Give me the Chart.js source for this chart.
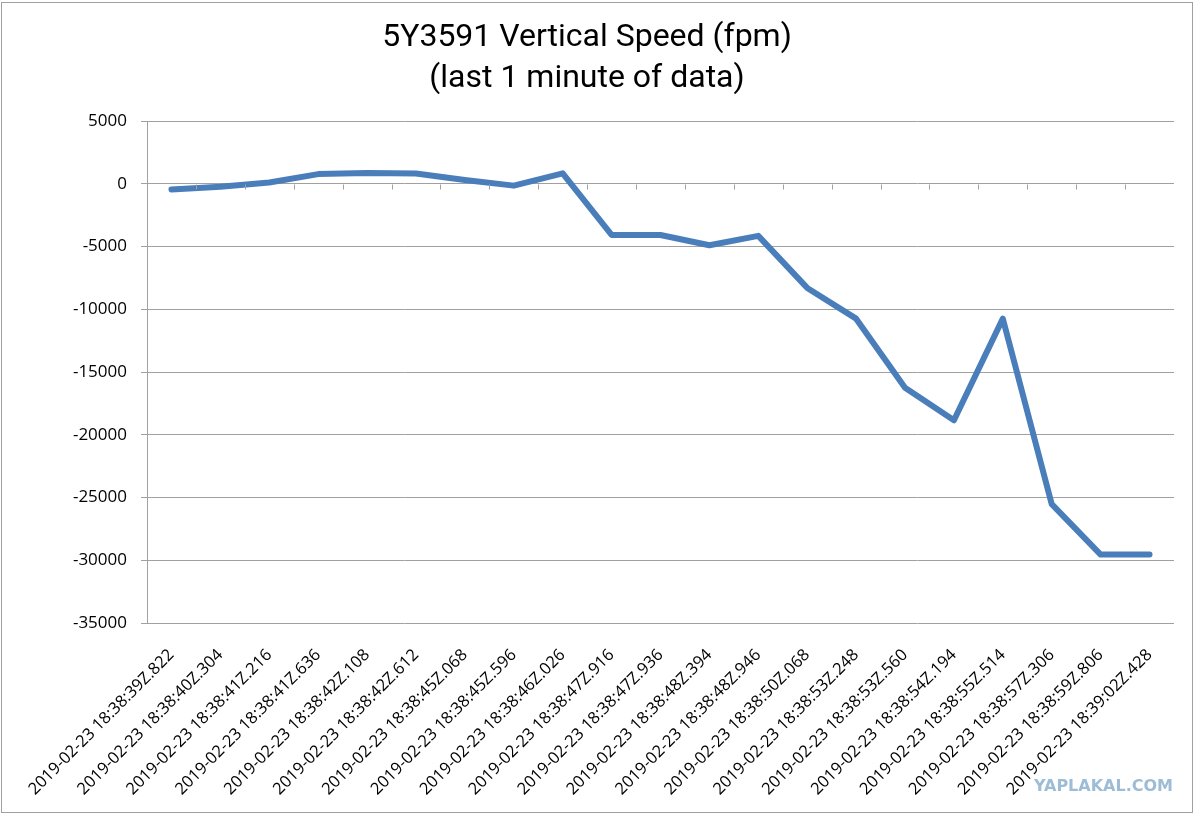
<!DOCTYPE html>
<html>
<head>
<meta charset="utf-8">
<script src="https://cdn.jsdelivr.net/npm/chart.js@4/dist/chart.umd.min.js"></script>
<style>
  html, body { margin: 0; padding: 0; background: #fff; }
  canvas { display: block; }
</style>
</head>
<body>
<canvas id="vsChart" width="1199" height="816"></canvas>
<script>
// data
var times = [
	"2019-02-23 18:38:39Z.822", "2019-02-23 18:38:40Z.304", "2019-02-23 18:38:41Z.216",
	"2019-02-23 18:38:41Z.636", "2019-02-23 18:38:42Z.108", "2019-02-23 18:38:42Z.612",
	"2019-02-23 18:38:45Z.068", "2019-02-23 18:38:45Z.596", "2019-02-23 18:38:46Z.026",
	"2019-02-23 18:38:47Z.916", "2019-02-23 18:38:47Z.936", "2019-02-23 18:38:48Z.394",
	"2019-02-23 18:38:48Z.946", "2019-02-23 18:38:50Z.068", "2019-02-23 18:38:53Z.248",
	"2019-02-23 18:38:53Z.560", "2019-02-23 18:38:54Z.194", "2019-02-23 18:38:55Z.514",
	"2019-02-23 18:38:57Z.306", "2019-02-23 18:38:59Z.806", "2019-02-23 18:39:02Z.428"
];
var vspeed = [
	-450, -240, 100, 770, 850, 820, 300, -150, 830,
	-4080, -4080, -4900, -4150, -8300, -10750, -16250, -18850,
	-10750, -25530, -29550, -29550
];
var yTicks = [5000, 0, -5000, -10000, -15000, -20000, -25000, -30000, -35000];
var titleLines = ["5Y3591 Vertical Speed (fpm)", "(last 1 minute of data)"];

var gridGray = '#a0a0a0';

// small category ticks sitting on the zero line, like the original sheet
var zeroTicks = {
	id: 'zeroTicks',
	afterDatasetsDraw: function(chart) {
		var x = chart.scales.x, y = chart.scales.y;
		var ctx = chart.ctx;
		var y0 = Math.round(y.getPixelForValue(0)) + 0.5;
		ctx.save();
		ctx.strokeStyle = gridGray;
		ctx.lineWidth = 1;
		ctx.beginPath();
		for (var i = 1; i < times.length; i++) {
			var px = Math.round((x.getPixelForValue(i - 1) + x.getPixelForValue(i)) / 2) + 0.5;
			ctx.moveTo(px, y0);
			ctx.lineTo(px, y0 + 5);
		}
		ctx.stroke();
		ctx.restore();
	}
};

// outer frame and watermark
var frame = {
	id: 'frame',
	afterDraw: function(chart) {
		var ctx = chart.ctx;
		ctx.save();
		ctx.strokeStyle = gridGray;
		ctx.lineWidth = 1;
		ctx.strokeRect(1.5, 2.5, 1191, 810);
		ctx.fillStyle = '#9dbcd6';
		ctx.font = 'bold 16px "DejaVu Sans"';
		ctx.textAlign = 'right';
		ctx.textBaseline = 'middle';
		ctx.fillText('YAPLAKAL.COM', 1173, 787);
		ctx.restore();
	}
};

var ctx = document.getElementById('vsChart');
var vsChart = new Chart(ctx, {
	type: 'line',
	data: {
		labels: times,
		datasets: [{
			label: 'Vertical Speed',
			data: vspeed,
			borderColor: '#4a7ebb',
			borderWidth: 6,
			borderJoinStyle: 'round',
			borderCapStyle: 'round',
			pointRadius: 0,
			tension: 0
		}]
	},
	options: {
		responsive: false,
		animation: false,
		devicePixelRatio: 1,
		layout: {
			padding: { top: 0, right: 25, bottom: 0, left: 0 }
		},
		plugins: {
			legend: { display: false },
			tooltip: { enabled: false },
			title: {
				display: true,
				text: titleLines,
				color: '#000',
				font: { family: 'Roboto', size: 32, weight: 'normal', lineHeight: '41px' },
				padding: { top: 17, bottom: 22 }
			}
		},
		scales: {
			x: {
				offset: true,
				grid: { display: false, drawTicks: false },
				border: { display: false },
				ticks: {
					autoSkip: false,
					maxRotation: 45,
					minRotation: 45,
					padding: 13,
					color: '#000',
					font: { family: 'Open Sans', size: 16.5, lineHeight: 2.8 }
				},
				afterFit: function(scale) { scale.height = 193; }
			},
			y: {
				min: -35000,
				max: 5000,
				afterBuildTicks: function(scale) {
					scale.ticks = yTicks.map(function(v) { return { value: v }; });
				},
				grid: { color: gridGray, tickLength: 6 },
				border: { display: true, color: gridGray },
				ticks: {
					padding: 14,
					color: '#000',
					font: { family: 'Open Sans', size: 17 },
					callback: function(v) { return String(v); }
				},
				afterFit: function(scale) { scale.width = 147; }
			}
		}
	},
	plugins: [zeroTicks, frame]
});
</script>
</body>
</html>
